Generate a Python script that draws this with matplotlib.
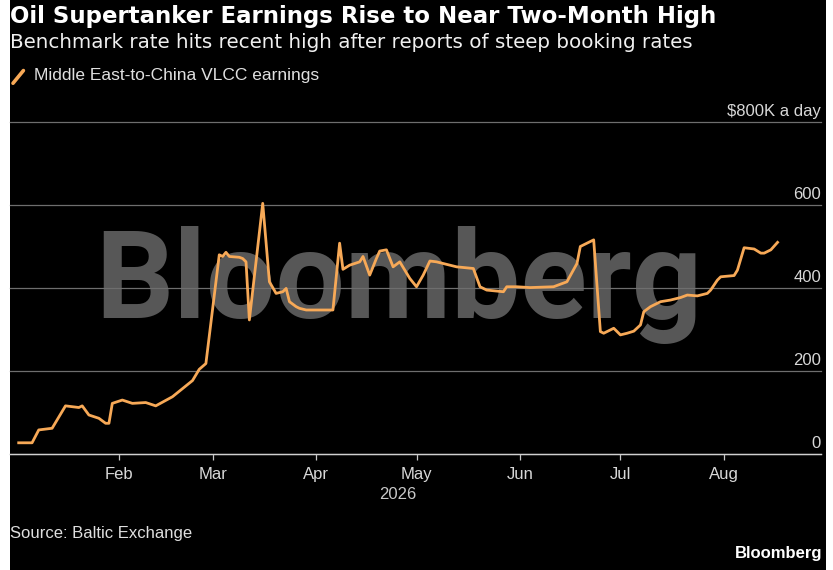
import matplotlib
matplotlib.use("Agg")
import matplotlib.pyplot as plt
from matplotlib.transforms import blended_transform_factory, offset_copy
from matplotlib.legend_handler import HandlerBase
from matplotlib.lines import Line2D
from matplotlib.patches import Rectangle
import pandas as pd

# ---------------- data ----------------
dates = [
    "2026-01-02", "2026-01-06", "2026-01-08", "2026-01-12", "2026-01-16", "2026-01-20",
    "2026-01-21", "2026-01-23", "2026-01-26", "2026-01-28", "2026-01-29", "2026-01-30",
    "2026-02-02", "2026-02-05", "2026-02-09", "2026-02-12", "2026-02-17", "2026-02-23",
    "2026-02-25", "2026-02-27", "2026-03-03", "2026-03-04", "2026-03-05", "2026-03-06",
    "2026-03-09", "2026-03-10", "2026-03-11", "2026-03-12", "2026-03-16", "2026-03-18",
    "2026-03-20", "2026-03-22", "2026-03-23", "2026-03-24", "2026-03-26", "2026-03-27",
    "2026-03-29", "2026-04-06", "2026-04-08", "2026-04-09", "2026-04-11", "2026-04-14",
    "2026-04-15", "2026-04-17", "2026-04-19", "2026-04-20", "2026-04-22", "2026-04-24",
    "2026-04-26", "2026-04-29", "2026-05-01", "2026-05-03", "2026-05-05", "2026-05-07",
    "2026-05-11", "2026-05-13", "2026-05-18", "2026-05-20", "2026-05-22", "2026-05-27",
    "2026-05-28", "2026-05-31", "2026-06-04", "2026-06-11", "2026-06-15", "2026-06-18",
    "2026-06-19", "2026-06-21", "2026-06-23", "2026-06-25", "2026-06-26", "2026-06-28",
    "2026-06-29", "2026-07-01", "2026-07-03", "2026-07-05", "2026-07-07", "2026-07-08",
    "2026-07-10", "2026-07-13", "2026-07-16", "2026-07-19", "2026-07-21", "2026-07-24",
    "2026-07-27", "2026-07-28", "2026-07-30", "2026-07-31", "2026-08-04", "2026-08-05",
    "2026-08-07", "2026-08-10", "2026-08-12", "2026-08-13", "2026-08-15", "2026-08-17",
]
earnings = [
    27, 27, 58, 62, 116, 112,
    116, 94, 86, 74, 74, 122,
    130, 122, 124, 116, 138, 177,
    204, 218, 480, 476, 486, 476,
    474, 471, 463, 323, 604, 415,
    387, 391, 399, 367, 355, 351,
    347, 347, 508, 445, 455, 463,
    476, 431, 471, 489, 492, 451,
    463, 423, 403, 431, 465, 463,
    455, 451, 447, 403, 395, 391,
    403, 403, 401, 403, 415, 459,
    500, 508, 516, 295, 291, 299,
    303, 287, 291, 296, 311, 343,
    355, 367, 371, 377, 383, 381,
    387, 395, 419, 427, 430, 443,
    497, 494, 484, 484, 492, 510,
]
series_label = "Middle East-to-China VLCC earnings"
y_ticks = [0, 200, 400, 600, 800]
y_tick_labels = ["0", "200", "400", "600", "$800K a day"]
month_ticks = ["2026-02-01", "2026-03-01", "2026-04-01", "2026-05-01",
               "2026-06-01", "2026-07-01", "2026-08-01"]
month_labels = ["Feb", "Mar", "Apr", "May", "Jun", "Jul", "Aug"]
year_label = "2026"
title = "Oil Supertanker Earnings Rise to Near Two-Month High"
subtitle = "Benchmark rate hits recent high after reports of steep booking rates"
source = "Source: Baltic Exchange"
brand = "Bloomberg"

# ---------------- style ----------------
W, H = 833, 570
ORANGE = "#F7A957"
SANS = ["Liberation Sans", "DejaVu Sans"]
WIDE = ["DejaVu Sans"]

fig = plt.figure(figsize=(W / 100, H / 100), dpi=100, facecolor="white")
fig.patches.append(Rectangle((10 / W, 0), (826 - 10) / W, 1, transform=fig.transFigure,
                             facecolor="black", edgecolor="none", zorder=-10))

ax = fig.add_axes([10 / W, (H - 454) / H, (821 - 10) / W, (454 - 122) / H])
ax.set_facecolor("black")

x = pd.to_datetime(dates)
ax.plot(x, earnings, color=ORANGE, lw=2.0, solid_joinstyle="round", zorder=3)

start = pd.Timestamp("2026-01-01")
ax.set_xlim(start - pd.Timedelta(days=1.6), start + pd.Timedelta(days=241))
ax.set_ylim(0, 800)

# grid / spines
ax.set_yticks(y_ticks)
ax.tick_params(axis="y", length=0, labelleft=False, labelright=False)
ax.grid(axis="y", color="#6e6e6e", lw=0.9, clip_on=False)
ax.set_axisbelow(True)
for s in ["left", "right", "top"]:
    ax.spines[s].set_visible(False)
ax.spines["bottom"].set_color("#d0d0d0")
ax.spines["bottom"].set_linewidth(1.0)
ax.spines["bottom"].set_zorder(2)

# y labels above gridlines, right aligned
ytrans = offset_copy(blended_transform_factory(ax.transAxes, ax.transData),
                     fig=fig, x=0, y=6, units="dots")
for v, lab in zip(y_ticks, y_tick_labels):
    ax.text(1.0, v, lab, transform=ytrans, ha="right", va="baseline",
            color="#d8d8d8", fontsize=12, family=SANS)

# x ticks
ax.set_xticks(pd.to_datetime(month_ticks))
ax.set_xticklabels(month_labels, family=SANS)
ax.tick_params(axis="x", direction="out", length=4, width=0.9, color="#c8c8c8",
               labelcolor="#d8d8d8", labelsize=12, pad=5.5)

# year label centred under data range
mid = x[0] + (x[-1] - x[0]) / 2
ax.text(mid, 1 - 499 / H, year_label,
        transform=blended_transform_factory(ax.transData, fig.transFigure),
        ha="center", va="baseline", color="#c8c8c8", fontsize=12, family=SANS)

# watermark
ax.text(399 / W, 1 - 318 / H, brand, transform=fig.transFigure, ha="center",
        va="baseline", fontsize=88.5, fontweight="bold", family=["Roboto", "DejaVu Sans"],
        color="#575757", zorder=0.1)

# titles
fig.text(10 / W, 1 - 23 / H, title, ha="left", va="baseline", color="white",
         fontsize=16.5, fontweight="bold", family=WIDE)
fig.text(10 / W, 1 - 48 / H, subtitle, ha="left", va="baseline", color="#f0f0f0",
         fontsize=14.3, family=WIDE)


class DiagHandler(HandlerBase):
    def create_artists(self, legend, orig_handle, xdescent, ydescent, width, height,
                       fontsize, trans):
        ln = Line2D([-xdescent, -xdescent + width],
                    [-ydescent - 0.2 * height, -ydescent + 0.8 * height],
                    color=orig_handle.get_color(), lw=orig_handle.get_linewidth(),
                    solid_capstyle="round", transform=trans)
        return [ln]


handle = Line2D([], [], color=ORANGE, lw=2.6)
fig.legend([handle], [series_label], handler_map={Line2D: DiagHandler()},
           loc="upper left", bbox_to_anchor=(13 / W, 1 - 68 / H), frameon=False,
           borderpad=0, borderaxespad=0, handlelength=0.6, handleheight=0.75,
           handletextpad=0.6, labelcolor="#e0e0e0",
           prop={"family": SANS, "size": 12.5})

fig.text(10 / W, 1 - 538 / H, source, ha="left", va="baseline", color="#e0e0e0",
         fontsize=12, family=SANS)
fig.text(822 / W, 1 - 558 / H, brand, ha="right", va="baseline", color="white",
         fontsize=12, fontweight="bold", family=SANS)

fig.savefig("out.png", dpi=100, facecolor=fig.get_facecolor())
